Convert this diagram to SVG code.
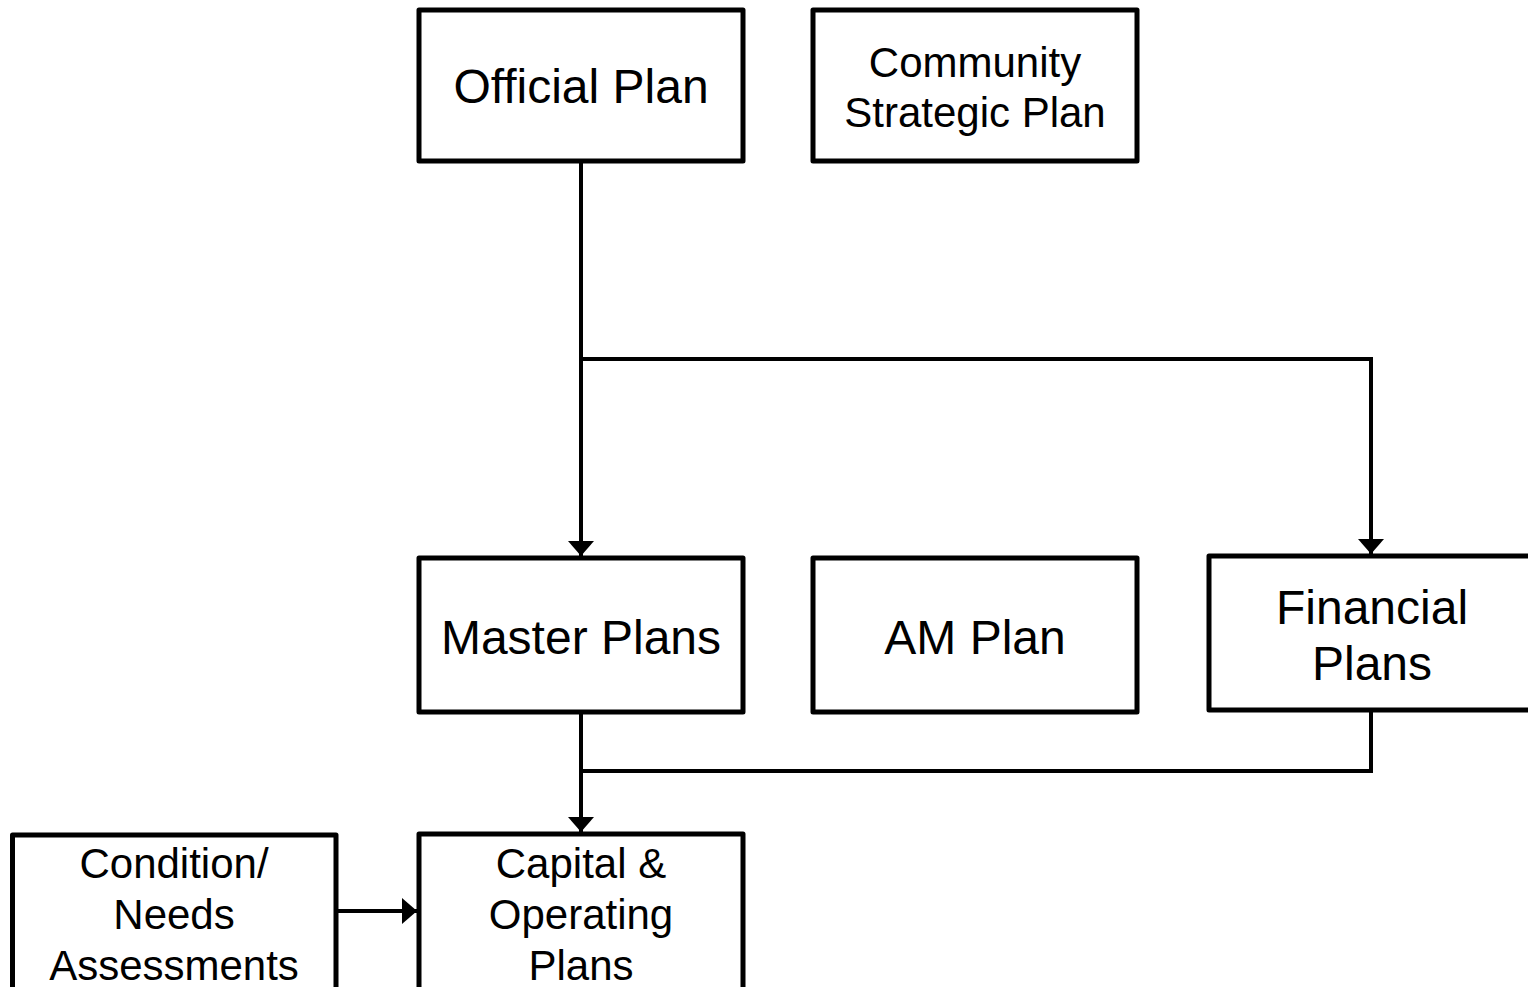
<svg xmlns="http://www.w3.org/2000/svg" width="1528" height="987" viewBox="0 0 1528 987">
  <style>
    .box { fill: #ffffff; stroke: #000000; stroke-width: 5; stroke-linejoin: round; }
    .lbl { font-family: "Liberation Sans", Arial, sans-serif; fill: #000000; text-anchor: middle; }
    .big { font-size: 48px; }
    .mid { font-size: 42px; }
    .wire { fill: none; stroke: #000000; stroke-width: 4; }
  </style>
  <defs>
    <marker id="arrow" markerUnits="userSpaceOnUse" markerWidth="15" markerHeight="26" refX="15" refY="13" orient="auto">
      <path d="M0,0 L15,13 L0,26 Z" fill="#000000"/>
    </marker>
  </defs>
  <rect width="1528" height="987" fill="#ffffff"/>

  <g id="connectors">
    <path class="wire" d="M581,161 L581,556" marker-end="url(#arrow)"/>
    <path class="wire" d="M581,359 L1371,359 L1371,554" marker-end="url(#arrow)"/>
    <path class="wire" d="M581,712 L581,832" marker-end="url(#arrow)"/>
    <path class="wire" d="M1371,710 L1371,771 L581,771"/>
    <path class="wire" d="M336,911 L417,911" marker-end="url(#arrow)"/>
  </g>

  <g id="official-plan">
    <rect class="box" x="419" y="10" width="324" height="151"/>
    <text class="lbl big" x="581" y="103">Official Plan</text>
  </g>

  <g id="community-strategic-plan">
    <rect class="box" x="813" y="10" width="324" height="151"/>
    <text class="lbl mid" x="975" y="77">Community</text>
    <text class="lbl mid" x="975" y="127">Strategic Plan</text>
  </g>

  <g id="master-plans">
    <rect class="box" x="419" y="558" width="324" height="154"/>
    <text class="lbl big" x="581" y="654">Master Plans</text>
  </g>

  <g id="am-plan">
    <rect class="box" x="813" y="558" width="324" height="154"/>
    <text class="lbl big" x="975" y="654">AM Plan</text>
  </g>

  <g id="financial-plans">
    <rect class="box" x="1209" y="556" width="330" height="154"/>
    <text class="lbl big" x="1372" y="624">Financial</text>
    <text class="lbl big" x="1372" y="680">Plans</text>
  </g>

  <g id="condition-needs-assessments">
    <rect class="box" x="12.5" y="835" width="323.5" height="200"/>
    <text class="lbl mid" x="174" y="878">Condition/</text>
    <text class="lbl mid" x="174" y="929">Needs</text>
    <text class="lbl mid" x="174" y="980">Assessments</text>
  </g>

  <g id="capital-operating-plans">
    <rect class="box" x="419" y="834" width="324" height="200"/>
    <text class="lbl mid" x="581" y="878">Capital &amp;</text>
    <text class="lbl mid" x="581" y="929">Operating</text>
    <text class="lbl mid" x="581" y="980">Plans</text>
  </g>
</svg>
